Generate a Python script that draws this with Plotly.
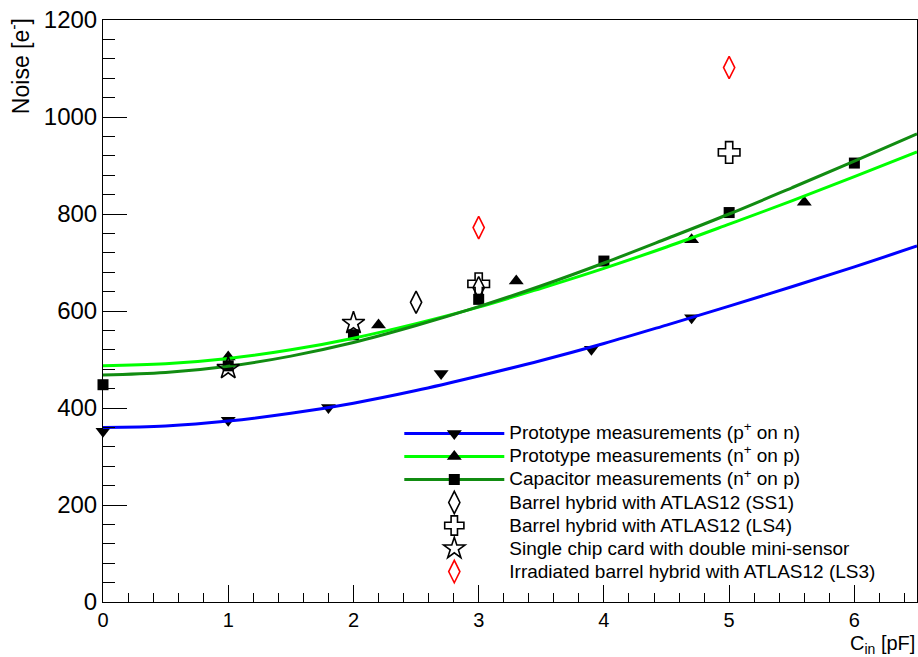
import plotly.graph_objects as go

# ---------------- data ----------------
# Prototype measurements (p+ on n)
proto_p_x = [0.0, 1.0, 1.8, 2.7, 3.9, 4.7]
proto_p_y = [352, 375, 401, 471, 521, 586]
# Prototype measurements (n+ on p)
proto_n_x = [1.0, 2.2, 3.3, 4.7, 5.6]
proto_n_y = [505, 571, 662, 747, 824]
# Capacitor measurements (n+ on p)
cap_x = [0.0, 1.0, 2.0, 3.0, 4.0, 5.0, 6.0]
cap_y = [448, 487, 551, 624, 703, 803, 905]
# Barrel hybrid with ATLAS12 (SS1)
ss1_x = [2.5, 3.0]
ss1_y = [618, 648]
# Barrel hybrid with ATLAS12 (LS4)
ls4_x = [3.0, 5.0]
ls4_y = [656, 927]
# Single chip card with double mini-sensor
scc_x = [1.0, 2.0]
scc_y = [482, 575]
# Irradiated barrel hybrid with ATLAS12 (LS3)
ls3_x = [3.0, 5.0]
ls3_y = [772, 1102]

# fit curves, values
curve_x = [0.0, 0.5, 1.0, 1.5, 2.0, 2.5, 3.0, 3.5, 4.0, 4.5, 5.0, 5.5, 6.0, 6.5]
fit_p_y = [360, 363, 373, 389, 410, 436, 466, 498, 533, 571, 610, 650, 691, 734]
fit_n_y = [487, 491, 502, 520, 544, 574, 608, 647, 688, 732, 779, 827, 877, 928]
fit_cap_y = [468, 473, 486, 507, 535, 570, 609, 652, 699, 749, 800, 854, 909, 965]

x_tickvals = [0, 1, 2, 3, 4, 5, 6]
y_tickvals = [0, 200, 400, 600, 800, 1000, 1200]

BLUE = "#0000ff"
LGREEN = "#00ff00"
DGREEN = "#118c11"
FONT = "Liberation Sans, Arial, Helvetica, sans-serif"


def gapped(xs, ys):
    """Separate the points with gaps so only markers are drawn,
    while the legend still shows the series line."""
    gx, gy = [], []
    for a, b in zip(xs, ys):
        gx += [a, None]
        gy += [b, None]
    return gx, gy


def lg(txt):
    return '<span style="font-size:19px">' + txt + '</span>'


fig = go.Figure()

# measured series (legend shows line + marker)
for xs, ys, name, col, sym, sz, rank in [
    (proto_p_x, proto_p_y, "Prototype measurements (p<sup>+</sup> on n)", BLUE, "triangle-down", 13, 1),
    (proto_n_x, proto_n_y, "Prototype measurements (n<sup>+</sup> on p)", LGREEN, "triangle-up", 13, 2),
    (cap_x, cap_y, "Capacitor measurements (n<sup>+</sup> on p)", DGREEN, "square", 11, 3),
]:
    gx, gy = gapped(xs, ys)
    fig.add_trace(go.Scatter(
        x=gx, y=gy, mode="lines+markers", name=lg(name), connectgaps=False,
        line=dict(color=col, width=3),
        marker=dict(symbol=sym, size=sz, color="black", line=dict(width=0)),
        cliponaxis=False, legendrank=rank,
    ))

# fit curves
for ys, col in [(fit_p_y, BLUE), (fit_n_y, LGREEN), (fit_cap_y, DGREEN)]:
    fig.add_trace(go.Scatter(
        x=curve_x, y=ys, mode="lines", showlegend=False, hoverinfo="skip",
        line=dict(color=col, width=3, shape="spline"),
    ))

# open-marker series
for xs, ys, name, col, sym, sz, rank in [
    (ls4_x, ls4_y, "Barrel hybrid with ATLAS12 (LS4)", "black", "cross-open", 18, 5),
    (ss1_x, ss1_y, "Barrel hybrid with ATLAS12 (SS1)", "black", "diamond-tall-open", 16, 4),
    (scc_x, scc_y, "Single chip card with double mini-sensor", "black", "star-open", 17, 6),
    (ls3_x, ls3_y, "Irradiated barrel hybrid with ATLAS12 (LS3)", "#ff0000", "diamond-tall-open", 16, 7),
]:
    fig.add_trace(go.Scatter(
        x=xs, y=ys, mode="markers", name=lg(name),
        marker=dict(symbol=sym, size=sz, color=col, line=dict(color=col, width=1.6)),
        cliponaxis=False, legendrank=rank,
    ))

fig.update_layout(
    width=918, height=657,
    margin=dict(l=103, r=1, t=20, b=55),
    paper_bgcolor="white", plot_bgcolor="white",
    font=dict(family=FONT, color="black", size=20),
    showlegend=True,
    legend=dict(
        x=0.364, y=0.318, xanchor="left", yanchor="top",
        bgcolor="rgba(255,255,255,0)", borderwidth=0,
        font=dict(size=15.4, family=FONT), itemwidth=100,
        tracegroupgap=0, traceorder="normal",
    ),
    xaxis=dict(
        range=[0, 6.5], tickvals=x_tickvals, ticks="inside", ticklen=17,
        tickwidth=1, tickcolor="black", showgrid=False, zeroline=False,
        showline=True, linecolor="black", linewidth=1, mirror=True,
        minor=dict(dtick=0.2, tick0=0, ticks="inside", ticklen=9, tickcolor="black", showgrid=False),
        tickfont=dict(size=20), ticklabelstandoff=0,
    ),
    yaxis=dict(
        range=[0, 1200], tickvals=y_tickvals, ticks="inside", ticklen=24,
        tickwidth=1, tickcolor="black", showgrid=False, zeroline=False,
        showline=True, linecolor="black", linewidth=1, mirror=True,
        minor=dict(dtick=40, tick0=0, ticks="inside", ticklen=12, tickcolor="black", showgrid=False),
        tickfont=dict(size=24), ticklabelstandoff=0,
    ),
    annotations=[
        dict(text="Noise [e<sup>-</sup>]", textangle=-90, xref="paper", yref="paper",
             x=-0.103, y=0.921, xanchor="center", yanchor="middle", showarrow=False,
             font=dict(size=23, family=FONT)),
        dict(text="C<sub>in</sub> [pF]", xref="paper", yref="paper",
             x=1.0, y=-0.0475, xanchor="right", yanchor="top", showarrow=False,
             font=dict(size=20, family=FONT)),
    ],
)

fig.write_html("out.html", config={"displayModeBar": False},
               post_script="document.body.style.margin='0';document.body.style.padding='0';")
